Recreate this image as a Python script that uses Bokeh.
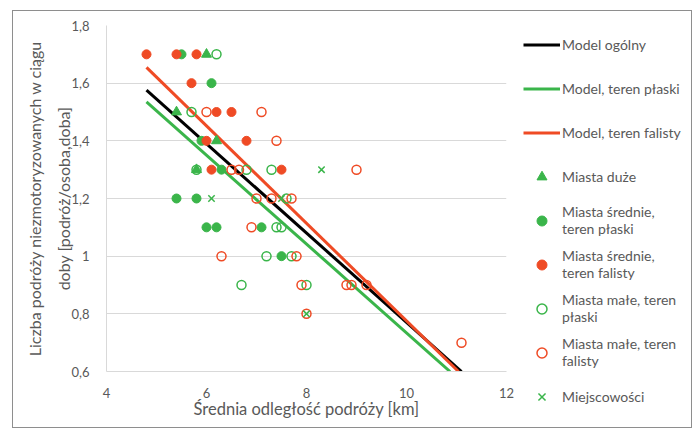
from bokeh.plotting import figure
from bokeh.models import Range1d, FixedTicker, CustomJSTickFormatter, Legend, LegendItem
from bokeh.embed import file_html
from bokeh.resources import INLINE

# ---------------- data ----------------
model_names = ["Model ogólny", "Model, teren płaski", "Model, teren falisty"]
model_x = [[4.8, 11.1], [4.8, 10.87], [4.8, 11.04]]
model_y = [[1.576, 0.6], [1.535, 0.6], [1.655, 0.6]]

duze_x = [6.0, 5.4, 6.2, 5.8]
duze_y = [1.7, 1.5, 1.4, 1.3]

sr_plaski_x = [5.5, 6.1, 5.9, 6.3, 5.4, 5.8, 6.0, 6.2, 7.1, 7.5]
sr_plaski_y = [1.7, 1.6, 1.4, 1.3, 1.2, 1.2, 1.1, 1.1, 1.1, 1.0]

sr_falisty_x = [4.8, 5.4, 5.8, 5.7, 6.2, 6.5, 6.0, 6.8, 6.1, 7.5]
sr_falisty_y = [1.7, 1.7, 1.7, 1.6, 1.5, 1.5, 1.4, 1.4, 1.3, 1.3]

male_plaski_x = [6.2, 5.7, 5.8, 6.8, 7.3, 7.6, 7.4, 7.5, 7.2, 7.7, 6.7, 8.0]
male_plaski_y = [1.7, 1.5, 1.3, 1.3, 1.3, 1.2, 1.1, 1.1, 1.0, 1.0, 0.9, 0.9]

male_falisty_x = [6.0, 7.1, 7.4, 6.5, 6.65, 9.0, 7.0, 7.3, 7.7, 6.9, 6.3, 7.8,
                  7.9, 8.8, 8.9, 9.2, 8.0, 11.1]
male_falisty_y = [1.5, 1.5, 1.4, 1.3, 1.3, 1.3, 1.2, 1.2, 1.2, 1.1, 1.0, 1.0,
                  0.9, 0.9, 0.9, 0.9, 0.8, 0.7]

miejsc_x = [6.1, 7.5, 8.3, 8.0]
miejsc_y = [1.2, 1.2, 1.3, 0.8]

x_ticks = [4, 6, 8, 10, 12]
y_ticks = [0.6, 0.8, 1.0, 1.2, 1.4, 1.6, 1.8]

series_labels = ["Miasta duże", "Miasta średnie,\nteren płaski", "Miasta średnie,\nteren falisty",
                 "Miasta małe, teren\npłaski", "Miasta małe, teren\nfalisty", "Miejscowości"]

x_title = "Średnia odległość podróży [km]"
y_title = "Liczba podróży niezmotoryzowanych w ciągu\ndoby [podróż/osoba,doba]"

# ---------------- style ----------------
GREEN = "#3AB54A"
RED = "#EF4B25"
BLACK = "#000000"
TXT = "#595959"
GRID = "#D9D9D9"
FONT = "Lato"

p = figure(width=680, height=418, output_backend="svg", toolbar_location=None,
           x_range=Range1d(4, 12), y_range=Range1d(0.6, 1.8),
           min_border_left=93, min_border_right=187, min_border_top=14, min_border_bottom=58,
           styles={"margin-left": "12px", "margin-top": "10px", "border": "1px solid #8E8E8E"})
p.outline_line_color = None
p.background_fill_color = "white"
p.border_fill_color = "white"

# axes
p.xaxis.ticker = FixedTicker(ticks=x_ticks)
p.yaxis.ticker = FixedTicker(ticks=y_ticks)
p.yaxis.formatter = CustomJSTickFormatter(
    code="var s = (Math.round(tick*10)/10).toString(); return s.replace('.', ',');")
for ax in (p.xaxis[0], p.yaxis[0]):
    ax.axis_line_color = GRID
    ax.major_tick_line_color = None
    ax.minor_tick_line_color = None
    ax.major_label_text_font = FONT
    ax.major_label_text_font_size = "13px"
    ax.major_label_text_color = TXT
    ax.axis_label_text_font = FONT
    ax.axis_label_text_font_style = "normal"
    ax.axis_label_text_color = TXT
p.xaxis.axis_label_text_font_size = "16.5px"
p.yaxis.axis_label_text_font_size = "16px"
p.xaxis.major_label_standoff = 10
p.yaxis.major_label_standoff = 11
p.xaxis.axis_label = x_title
p.yaxis.axis_label = y_title
p.xaxis.axis_label_standoff = -2
p.yaxis.axis_label_standoff = -5
p.yaxis.axis_label_text_line_height = 1.55

p.xgrid.grid_line_color = None
p.ygrid.grid_line_color = GRID
p.ygrid.ticker = FixedTicker(ticks=y_ticks)

# model lines
line_colors = [BLACK, GREEN, RED]
for xs, ys, c in zip(model_x, model_y, line_colors):
    p.line(xs, ys, line_color=c, line_width=3)

# scatter series
marker_specs = [
    (duze_x, duze_y, dict(marker="triangle", size=10, fill_color=GREEN, line_color=GREEN)),
    (sr_plaski_x, sr_plaski_y, dict(marker="circle", size=9, fill_color=GREEN, line_color=GREEN)),
    (sr_falisty_x, sr_falisty_y, dict(marker="circle", size=9, fill_color=RED, line_color=RED)),
    (male_plaski_x, male_plaski_y, dict(marker="circle", size=9, fill_color=None, line_color=GREEN, line_width=1.5)),
    (male_falisty_x, male_falisty_y, dict(marker="circle", size=9, fill_color=None, line_color=RED, line_width=1.5)),
    (miejsc_x, miejsc_y, dict(marker="x", size=9, line_color=GREEN, line_width=1.5)),
]
for xs, ys, kw in marker_specs:
    p.scatter(xs, ys, **kw)

# ---------------- legend panel (separate canvas laid over the right margin) ----------------
# Same series are drawn again here, but the panel's ranges keep them out of view;
# they only serve as the legend's glyph sources.
p2 = figure(width=175, height=418, output_backend="svg", toolbar_location=None,
            x_range=Range1d(0, 1), y_range=Range1d(0, 1),
            x_axis_type=None, y_axis_type=None,
            min_border_left=0, min_border_right=0, min_border_top=0, min_border_bottom=0,
            styles={"position": "absolute", "left": "518px", "top": "11px"})
p2.outline_line_color = None
p2.background_fill_alpha = 0
p2.border_fill_alpha = 0

legend_renderers = []
for xs, ys, c in zip(model_x, model_y, line_colors):
    legend_renderers.append(p2.line(xs, ys, line_color=c, line_width=3))
for xs, ys, kw in marker_specs:
    legend_renderers.append(p2.scatter(xs, ys, **kw))

all_labels = model_names + series_labels
legend = Legend(items=[LegendItem(label=n, renderers=[r]) for n, r in zip(all_labels, legend_renderers)],
                location=(5, 11))
legend.border_line_color = None
legend.background_fill_alpha = 0
legend.padding = 0
legend.margin = 0
legend.spacing = 0
legend.label_text_font = FONT
legend.label_text_font_size = "14px"
legend.label_text_color = TXT
legend.label_height = 44
legend.glyph_height = 25
legend.glyph_width = 37
legend.label_standoff = 2
p2.add_layout(legend)

open("out.html", "w").write(file_html([p, p2], INLINE))
